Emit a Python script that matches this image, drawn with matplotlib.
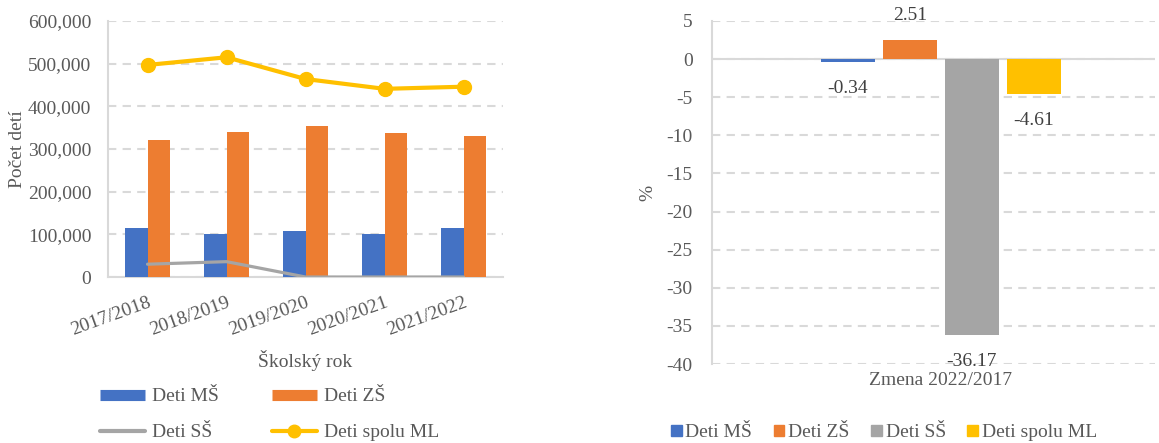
import matplotlib
matplotlib.use('Agg')
import matplotlib.pyplot as plt
from matplotlib.lines import Line2D
from matplotlib.patches import Patch
from matplotlib.ticker import FuncFormatter
import numpy as np

# data
years = ['2017/2018', '2018/2019', '2019/2020', '2020/2021', '2021/2022']
deti_ms = [114000, 101000, 108000, 101000, 114000]
deti_zs = [321000, 341000, 354000, 337000, 330000]
deti_ss = [30000, 36000, 0, 0, 0]
deti_spolu = [497000, 515000, 464000, 441000, 446000]

change_labels = ['Deti MŠ', 'Deti ZŠ', 'Deti SŠ', 'Deti spolu ML']
change_values = [-0.34, 2.51, -36.17, -4.61]

BLUE = '#4472C4'
ORANGE = '#ED7D31'
GRAY = '#A5A5A5'
YELLOW = '#FFC000'
TXT = '#595959'
GRID = '#D9D9D9'

plt.rcParams['font.family'] = ['Liberation Serif', 'DejaVu Serif']
plt.rcParams['font.size'] = 14
plt.rcParams['axes.unicode_minus'] = False
plt.rcParams['text.color'] = TXT
plt.rcParams['xtick.color'] = TXT
plt.rcParams['ytick.color'] = TXT
plt.rcParams['axes.labelcolor'] = TXT

fig = plt.figure(figsize=(11.59, 4.43), dpi=100)

# ---- left chart
ax = fig.add_axes([0.0932, 0.3747, 0.3408, 0.5779])
x = np.arange(len(years))
w = 0.29
ax.bar(x - w / 2, deti_ms, w, color=BLUE, zorder=3)
ax.bar(x + w / 2, deti_zs, w, color=ORANGE, zorder=3)
ax.plot(x, deti_ss, color=GRAY, lw=2.3, zorder=4, solid_capstyle='round')
ax.plot(x, deti_spolu, color=YELLOW, lw=3, marker='o', ms=10, zorder=5)

ax.set_xlim(-0.5, 4.5)
ax.set_ylim(0, 600000)
ax.set_yticks(range(0, 600001, 100000))
ax.yaxis.set_major_formatter(FuncFormatter(lambda v, p: '{:,.0f}'.format(v)))
ax.set_xticks(x)
ax.set_xticklabels(years, rotation=20, ha='right', va='top', rotation_mode='anchor')
ax.tick_params(axis='both', length=0)
ax.tick_params(axis='y', pad=12)
ax.tick_params(axis='x', pad=12)
ax.grid(axis='y', color=GRID, lw=1.5, ls=(0, (4, 3)), zorder=0)
for s in ['top', 'right']:
    ax.spines[s].set_visible(False)
ax.spines['left'].set_color(GRID)
ax.spines['bottom'].set_color(GRID)
ax.spines['left'].set_linewidth(1.5)
ax.spines['bottom'].set_linewidth(1.5)
ax.set_ylabel('Počet detí', labelpad=1)
ax.set_xlabel('Školský rok', labelpad=8)

handles = [Line2D([], [], color=BLUE, lw=8, solid_capstyle='butt'),
           Line2D([], [], color=GRAY, lw=3, solid_capstyle='round'),
           Line2D([], [], color=ORANGE, lw=8, solid_capstyle='butt'),
           Line2D([], [], color=YELLOW, lw=3, marker='o', ms=9, solid_capstyle='round')]
labels = ['Deti MŠ', 'Deti SŠ', 'Deti ZŠ', 'Deti spolu ML']
fig.legend(handles, labels, ncol=2, loc='center', bbox_to_anchor=(0.2325, 0.0640),
           frameon=False, handlelength=2.35, handletextpad=0.35, columnspacing=2.7,
           labelspacing=0.95)

# ---- right chart
ax2 = fig.add_axes([0.6143, 0.1783, 0.3822, 0.7743])
bw = 0.122
gap = 0.018
pos = (np.arange(4) - 1.5) * (bw + gap)
colors = [BLUE, ORANGE, GRAY, YELLOW]
bars = ax2.bar(pos, change_values, bw, color=colors, zorder=3)
for p, v in zip(pos, change_values):
    off = 17.5 if v > 0 else -19
    ax2.annotate('{:.2f}'.format(v), (p, v), xytext=(0, off), textcoords='offset points',
                 ha='center', va='center', color='#404040', fontsize=14)
ax2.set_xlim(-0.517, 0.483)
ax2.set_ylim(-40, 5)
ax2.set_yticks(range(-40, 6, 5))
ax2.set_xticks([0])
ax2.set_xticklabels(['Zmena 2022/2017'])
ax2.tick_params(axis='both', length=0)
ax2.tick_params(axis='y', pad=14)
ax2.tick_params(axis='x', pad=6)
ax2.grid(axis='y', color=GRID, lw=1.5, ls=(0, (4, 3)), zorder=0)
ax2.axhline(0, color=GRID, lw=1.5, zorder=2)
for s in ['top', 'right', 'bottom']:
    ax2.spines[s].set_visible(False)
ax2.spines['left'].set_color(GRID)
ax2.spines['left'].set_linewidth(1.5)
ax2.set_ylabel('%', labelpad=7)

h2 = [Patch(color=c) for c in colors]
fig.legend(h2, change_labels, ncol=4, loc='center', bbox_to_anchor=(0.7627, 0.0230),
           frameon=False, handlelength=0.55, handleheight=0.55, handletextpad=0.2,
           columnspacing=1.1)

fig.savefig('out.png', dpi=100)
